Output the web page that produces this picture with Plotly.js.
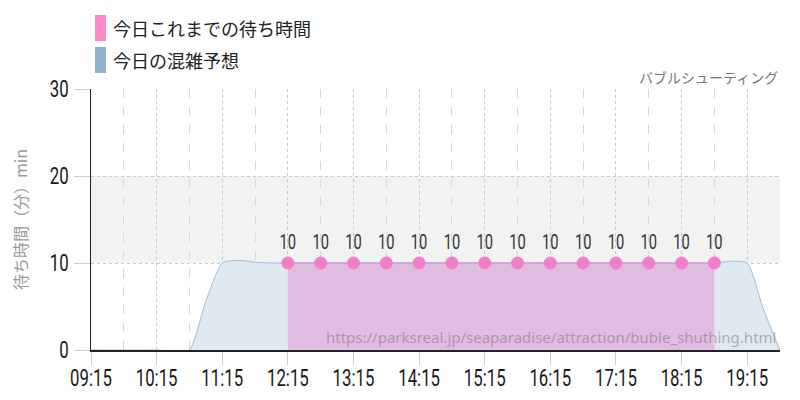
<!DOCTYPE html>
<html>
<head>
<meta charset="utf-8">
<script src="https://cdn.plot.ly/plotly-3.0.1.min.js"></script>
<style>
html, body { margin: 0; padding: 0; background: #fff; }
#chart { width: 800px; height: 400px; }
</style>
</head>
<body>
<div id="chart"></div>
<script>
var day = '2024-01-01 ';

// today's forecast (blue area), every 15 min
var forecastTimes = ['09:15', '09:30', '09:45', '10:00', '10:15', '10:30', '10:45', '11:00', '11:15', '11:30',
    '11:45', '12:00', '12:15', '12:30', '12:45', '13:00', '13:15', '13:30', '13:45', '14:00',
    '14:15', '14:30', '14:45', '15:00', '15:15', '15:30', '15:45', '16:00', '16:15', '16:30',
    '16:45', '17:00', '17:15', '17:30', '17:45', '18:00', '18:15', '18:30', '18:45', '19:00',
    '19:15', '19:30', '19:45'];
var forecastWait = [0, 0, 0, 0, 0, -0.2, 0, 5.6, 10, 10.3,
    10.1, 10, 10, 10, 10, 10, 10, 10, 10, 10,
    10, 10, 10, 10, 10, 10, 10, 10, 10, 10,
    10, 10, 10, 10, 10, 10, 10, 10, 10, 10.2,
    10, 4.6, 0];

// today's actual waits so far (pink), every 30 min
var actualTimes = ['12:15', '12:45', '13:15', '13:45', '14:15', '14:45', '15:15', '15:45', '16:15',
    '16:45', '17:15', '17:45', '18:15', '18:45'];
var actualWait = [10, 10, 10, 10, 10, 10, 10, 10, 10, 10, 10, 10, 10, 10];

var legendNames = ['今日これまでの待ち時間', '今日の混雑予想'];
var attractionName = 'バブルシューティング';
var yTitle = '待ち時間（分）min';
var sourceUrl = 'https://parksreal.jp/seaparadise/attraction/buble_shuthing.html';

var numFont = 'Roboto, sans-serif';
var jpFont = '"Noto Sans CJK JP", "Noto Sans", sans-serif';

var data = [{
    x: forecastTimes.map(function (t) { return day + t; }),
    y: forecastWait,
    type: 'scatter',
    mode: 'lines',
    line: {shape: 'spline', smoothing: 0.6, color: '#9fbcd8', width: 1},
    fill: 'tozeroy',
    fillcolor: '#dfe9f2',
    hoverinfo: 'skip'
}, {
    x: actualTimes.map(function (t) { return day + t; }),
    y: actualWait,
    type: 'scatter',
    mode: 'lines+markers+text',
    line: {color: '#c68ac6', width: 1},
    fill: 'tozeroy',
    fillcolor: 'rgba(224,184,222,0.9)',
    marker: {color: '#f27fc6', size: 13},
    text: actualWait.map(String),
    textposition: 'top center',
    textfont: {family: numFont, size: 21, color: '#333'}
}];

var layout = {
    width: 800,
    height: 400,
    margin: {l: 91, r: 20, t: 89, b: 50},
    showlegend: false,
    plot_bgcolor: '#fff',
    paper_bgcolor: '#fff',
    xaxis: {
        type: 'date',
        range: [day + '09:15', day + '19:45'],
        tick0: day + '09:15',
        dtick: 3600000,
        tickformat: '%H:%M',
        ticks: 'outside',
        ticklen: 13,
        tickcolor: '#ccc',
        tickfont: {family: numFont, size: 24, color: '#1a1a1a'},
        showgrid: true,
        gridcolor: '#c8c8c8',
        griddash: 'dot',
        minor: {tick0: day + '09:45', dtick: 3600000, showgrid: true, gridcolor: '#d8d8d8', griddash: 'dash'},
        showline: true,
        linecolor: '#222',
        linewidth: 1.5,
        zeroline: false,
        fixedrange: true
    },
    yaxis: {
        range: [0, 30],
        dtick: 10,
        ticks: 'outside',
        ticklen: 16,
        tickcolor: '#ccc',
        tickfont: {family: numFont, size: 24, color: '#1a1a1a'},
        showgrid: true,
        gridcolor: '#c8c8c8',
        griddash: 'dot',
        showline: true,
        linecolor: '#222',
        linewidth: 1.5,
        zeroline: false,
        title: {text: yTitle, font: {family: jpFont, size: 16, color: '#999'}, standoff: 10},
        fixedrange: true
    },
    shapes: [
        // band between 10 and 20
        {type: 'rect', xref: 'paper', yref: 'y', x0: 0, x1: 1, y0: 10, y1: 20,
            fillcolor: '#f2f2f2', line: {width: 0}, layer: 'below'},
        // legend swatches
        {type: 'rect', xref: 'paper', yref: 'paper', x0: 4 / 689, x1: 15 / 689,
            y0: (350 - 41) / 261, y1: (350 - 15) / 261, fillcolor: '#ff88c8', line: {width: 0}},
        {type: 'rect', xref: 'paper', yref: 'paper', x0: 4 / 689, x1: 15 / 689,
            y0: (350 - 73) / 261, y1: (350 - 47) / 261, fillcolor: '#90b2d0', line: {width: 0}}
    ],
    annotations: [
        {xref: 'paper', yref: 'paper', x: 20 / 689, y: (350 - 28) / 261, xanchor: 'left', yanchor: 'middle',
            text: legendNames[0], showarrow: false, font: {family: jpFont, size: 18, color: '#222'}},
        {xref: 'paper', yref: 'paper', x: 20 / 689, y: (350 - 60) / 261, xanchor: 'left', yanchor: 'middle',
            text: legendNames[1], showarrow: false, font: {family: jpFont, size: 18, color: '#222'}},
        {xref: 'paper', yref: 'paper', x: 1, y: (350 - 77) / 261, xanchor: 'right', yanchor: 'middle',
            text: attractionName, showarrow: false, font: {family: jpFont, size: 14, color: '#777'}},
        {xref: 'paper', yref: 'paper', x: 0.997, y: 13 / 261, xanchor: 'right', yanchor: 'middle',
            text: sourceUrl, showarrow: false, font: {family: '"Noto Sans", sans-serif', size: 15, color: 'rgba(110,110,110,0.5)'}}
    ]
};

// squeeze the numeric labels horizontally to get the condensed look
function condense(gd) {
    gd.querySelectorAll('.xtick text, .ytick text, .textpoint text').forEach(function (el) {
        var b = el.getBBox();
        var anchor = el.getAttribute('text-anchor');
        var cx = anchor === 'end' ? b.x + b.width : (anchor === 'start' ? b.x : b.x + b.width / 2);
        var dy = el.parentNode.classList.contains('xtick') ? -7 : 0;
        var t = el.getAttribute('transform') || '';
        el.setAttribute('transform', t + ' translate(' + cx + ',' + dy + ') scale(0.7,1) translate(' + (-cx) + ',0)');
    });
}

Plotly.newPlot('chart', data, layout, {displayModeBar: false, staticPlot: true}).then(condense);
</script>
</body>
</html>
